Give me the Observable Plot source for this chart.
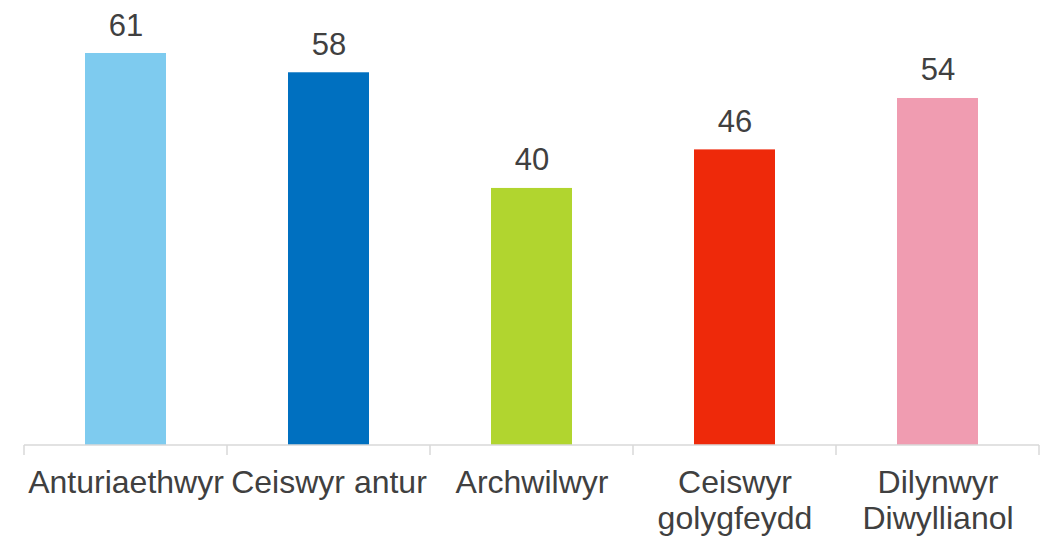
<!DOCTYPE html>
<html>
<head>
<meta charset="utf-8">
<script src="https://cdn.jsdelivr.net/npm/d3@7"></script>
<script src="https://cdn.jsdelivr.net/npm/@observablehq/plot@0.6"></script>
<style>
  html, body { margin: 0; padding: 0; background: #fff; }
  #chart svg { display: block; }
</style>
</head>
<body>
<div id="chart"></div>
<script>
const categories = ["Anturiaethwyr", "Ceiswyr antur", "Archwilwyr", "Ceiswyr golygfeydd", "Dilynwyr Diwylliannol"];
const tickLabels = ["Anturiaethwyr", "Ceiswyr antur", "Archwilwyr", "Ceiswyr\ngolygfeydd", "Dilynwyr\nDiwyllianol"];
const values = [61, 58, 40, 46, 54];
const colors = ["#7ECBEF", "#0070C0", "#B1D52F", "#EE290A", "#F09CB1"];

const data = categories.map((c, i) => ({category: c, value: values[i], label: tickLabels[i], color: colors[i]}));

// boundary ticks between category slots, derived from the band scale
function boundaryTicks(index, scales, values, dims, context) {
  const x = scales.x, y = scales.y;
  const step = x(categories[1]) - x(categories[0]);
  const bw = x.bandwidth ? x.bandwidth() : 0;
  const y0 = y(0);
  const g = d3.create("svg:g");
  const first = x(categories[0]) - (step - (bw || step * 0.4)) / 2;
  const xs = d3.range(categories.length + 1).map(i => first + i * step);
  g.append("line")
    .attr("x1", xs[0]).attr("x2", xs[xs.length - 1])
    .attr("y1", y0).attr("y2", y0)
    .attr("stroke", "#d9d9d9").attr("stroke-width", 1.5);
  for (const xv of xs) {
    g.append("line")
      .attr("x1", xv).attr("x2", xv)
      .attr("y1", y0).attr("y2", y0 + 10)
      .attr("stroke", "#d9d9d9").attr("stroke-width", 1.5);
  }
  return g.node();
}

const chart = Plot.plot({
  width: 1046,
  height: 537,
  marginLeft: 23,
  marginRight: 5,
  marginTop: 53,
  marginBottom: 92,
  style: {fontFamily: "Liberation Sans, Arial, sans-serif", background: "#fff"},
  x: {domain: categories, paddingInner: 0.6, paddingOuter: 0.3, axis: null},
  y: {domain: [0, 61], axis: null},
  marks: [
    Plot.barY(data, {x: "category", y: "value", fill: "color"}),
    boundaryTicks,
    Plot.text(data, {x: "category", y: "value", text: d => String(d.value), lineAnchor: "bottom", dy: -18, fontSize: 31, fill: "#404040"}),
    Plot.text(data, {x: "category", y: () => 0, text: "label", lineAnchor: "top", dy: 21, fontSize: 32, lineHeight: 1.15, fill: "#404040"})
  ]
});
document.getElementById("chart").appendChild(chart);
</script>
</body>
</html>
